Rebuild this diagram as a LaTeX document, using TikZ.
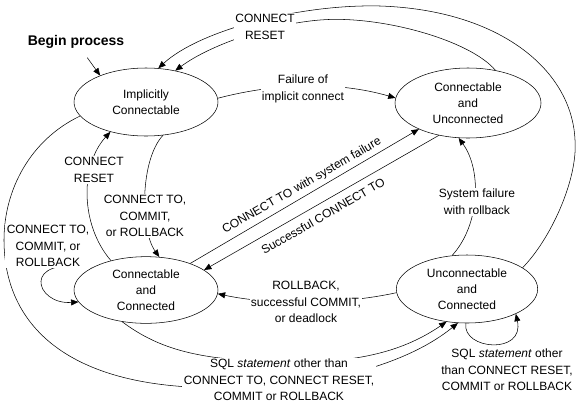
\documentclass[tikz,border=0pt]{standalone}
\usepackage{fontspec}
\setmainfont{Liberation Sans}
\usetikzlibrary{shapes.geometric,arrows.meta}

\begin{document}
\begin{tikzpicture}[x=0.75pt,y=0.75pt,yscale=-1,xscale=1,
  state/.style={draw, ellipse, inner sep=0pt, align=center, font=\fontsize{9}{12}\selectfont},
  lbl/.style={fill=white, inner sep=1pt, align=center, font=\fontsize{9}{12.5}\selectfont},
  slant/.style={rotate=30, inner sep=1pt, font=\fontsize{9}{12}\selectfont},
  arr/.style={-{Triangle[length=5.5pt,width=4.5pt]}}]
\useasboundingbox (0,0) rectangle (581,411);

%States
\node [state, minimum width=108pt, minimum height=51pt] (ic) at (146,102) {Implicitly\\Connectable};
\node [state, minimum width=109.5pt, minimum height=52.5pt] (cu) at (468,103) {Connectable\\and\\Unconnected};
\node [state, minimum width=108pt, minimum height=50pt] (cc) at (146,290) {Connectable\\and\\Connected};
\node [state, minimum width=106pt, minimum height=51pt] (uc) at (467,289) {Unconnectable\\and\\Connected};

%Start
\node [font=\bfseries\fontsize{10.5}{12}\selectfont] (begin) at (76,42) {Begin process};
\draw [arr, shorten <=4pt] (begin) -- (ic.150);

%Curves to Implicitly Connectable
\draw [arr] (uc.21) .. controls (550,240) and (578,180) .. (575,140) .. controls (572,70) and (500,10) .. (380,6) .. controls (300,4) and (200,30) .. (ic.70);
\draw [arr] (cu.50) .. controls (470,40) and (380,15) .. (320,20) .. controls (270,24) and (210,45) .. (ic.47);
\draw [arr] (cc.140) .. controls (80,225) and (80,165) .. (ic.220);

%Curves from Implicitly Connectable
\draw [arr] (ic.3) .. controls (280,82) and (340,82) .. (cu.176);
\draw [arr] (ic.-63) .. controls (140,160) and (140,230) .. (cc.68);
\draw [arr] (ic.192) .. controls (30,140) and (4,190) .. (4,240) .. controls (4,320) and (60,380) .. (190,387) .. controls (300,393) and (400,370) .. (uc.255);

%Connectable and Connected
\draw [arr] (cc.158) .. controls (20,255) and (35,305) .. (cc.190);
\draw [arr] (cc.31) -- (cu.208);
\draw [arr] (cu.228) -- (cc.19);
\draw [arr] (cc.233) .. controls (160,350) and (200,360) .. (280,362) .. controls (360,364) and (405,350) .. (uc.238);

%Unconnectable and Connected
\draw [arr] (uc.114) .. controls (480,225) and (482,170) .. (cu.255);
\draw [arr] (uc.183) .. controls (340,305) and (270,305) .. (cc.-3);
\draw [arr] (uc.268) .. controls (462,350) and (525,355) .. (uc.333);

%Labels
\node [lbl] (reset1) at (265,27) {CONNECT\\RESET};
\node [lbl] (fail) at (303,89) {Failure of\\implicit connect};
\node [lbl] (reset2) at (94,170) {CONNECT\\RESET};
\node [lbl] (commit1) at (145,216) {CONNECT TO,\\COMMIT,\\or ROLLBACK};
\node [lbl] (commit2) at (48,246) {CONNECT TO,\\COMMIT, or\\ROLLBACK};
\node [lbl] (sysfail) at (477,202) {System failure\\with rollback};
\node [lbl] (rollback) at (306,302) {ROLLBACK,\\successful COMMIT,\\or deadlock};
\node [lbl] (sqlbottom) at (279,380) {SQL \textit{statement} other than\\CONNECT TO, CONNECT RESET,\\COMMIT or ROLLBACK};
\node [lbl] (sqlloop) at (507,370) {SQL \textit{statement} other\\than CONNECT RESET,\\COMMIT or ROLLBACK};
\node [slant] (sysconn) at (302,186) {CONNECT TO with system failure};
\node [slant] (succconn) at (323,216) {Successful CONNECT TO};

\end{tikzpicture}
\end{document}
